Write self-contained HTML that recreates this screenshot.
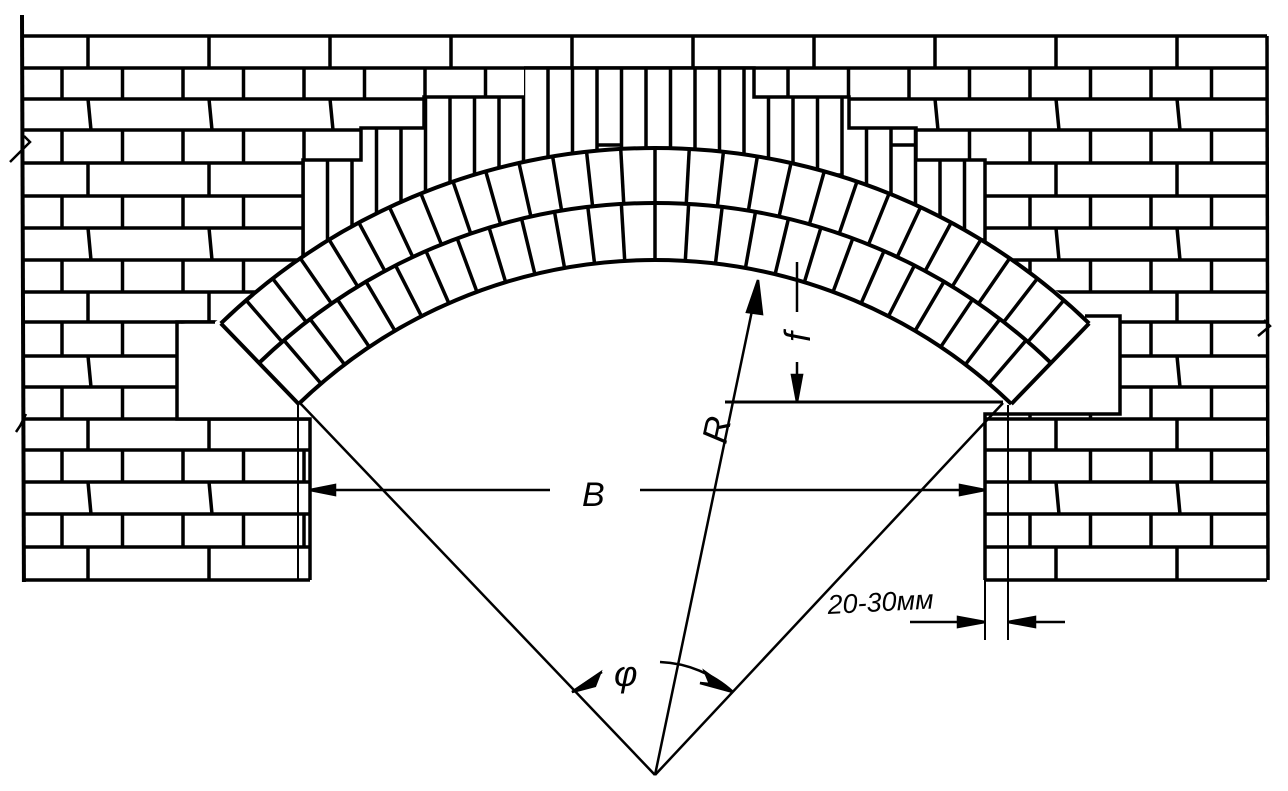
<!DOCTYPE html>
<html><head><meta charset="utf-8"><style>
html,body{margin:0;padding:0;background:#fff;}
svg{display:block;}
text{font-family:"Liberation Sans",sans-serif;font-style:italic;fill:#000;}
</style></head><body>
<svg id="s" width="1288" height="791" viewBox="0 0 1288 791" xmlns="http://www.w3.org/2000/svg">
<defs>
<clipPath id="soldier"><path d="M524,68 L754,68 L754,97 L849,97 L849,128 L916,128 L916,160 L985,160 L985,330 L300,330 L303,160 L361,160 L361,128 L424,128 L424,97 L524,97 Z"/></clipPath>
</defs>
<g id="bricks" stroke="#000" stroke-width="3.5" fill="none"></g>
<g id="white" fill="#fff" stroke="none">
<path d="M524,68 L754,68 L754,97 L849,97 L849,128 L916,128 L916,160 L985,160 L985,244 L1090,313 L1120,318 L1120,414 L985,414 L985,582 L310,582 L310,419 L177,419 L177,324 L215,322 L303,258 L303,160 L361,160 L361,128 L424,128 L424,97 L524,97 Z"/>
<rect x="0" y="582" width="1288" height="209"/>
</g>
<g id="sold" stroke="#000" stroke-width="3.5" fill="none" clip-path="url(#soldier)"></g>
<g id="soldEdge" stroke="#000" stroke-width="3.5" fill="none">
<path d="M524,68 L754,68 L754,97 L849,97 L849,128 L916,128 L916,160 L985,160 L985,244 M303,258 L303,160 L361,160 L361,128 L424,128 L424,97 L524,97"/>
<path d="M1085,316 L1120,316 L1120,414 L985,414 L985,580 M215,322 L177,322 L177,419 L310,419 L310,580"/>
</g>
<g id="arch" stroke="#000" stroke-width="4" fill="none"></g>
<g id="ann" stroke="#000" stroke-width="2.5" fill="none"></g>
</svg>
<script>
var NS="http://www.w3.org/2000/svg";
function ln(g,x1,y1,x2,y2,w){var l=document.createElementNS(NS,"line");l.setAttribute("x1",x1);l.setAttribute("y1",y1);l.setAttribute("x2",x2);l.setAttribute("y2",y2);if(w)l.setAttribute("stroke-width",w);document.getElementById(g).appendChild(l);}
function pth(g,d,extra){var p=document.createElementNS(NS,"path");p.setAttribute("d",d);if(extra)for(var k in extra)p.setAttribute(k,extra[k]);document.getElementById(g).appendChild(p);}
var X0=24,X1=1267;
var rows=[36,68,99,130,163,196,228,260,292,322,356,387,419,450,482,514,547,580];
for(var i=0;i<rows.length;i++){ln("bricks",X0,rows[i],X1,rows[i]);}
for(var i=0;i<rows.length-1;i++){
 var y1=rows[i],y2=rows[i+1];
 if(i%2==0){for(var x=88;x<X1;x+=121)ln("bricks",x,y1,x+(i%4==0?0:3),y2);}
 else {for(var x=62;x<X1;x+=60.5)ln("bricks",x,y1,x,y2);}
}
ln("bricks",22,15,24,605,4);ln("bricks",1267,36,1268,580,3.5);
pth("bricks","M24,136 L30,142 L10,162",{"stroke-width":"2.5"});
pth("bricks","M1264,320 L1270,326 L1258,336",{"stroke-width":"2.5"});
pth("bricks","M26,414 L20,426 L16,432",{"stroke-width":"2.5"});
for(var x=303,j=0;x<990;x+=24.5,j++){ln("sold",x,60,x,340);
 var yb=[145,175,210,240][j%4]; if(j%3==0)ln("sold",x,yb,x+24.5,yb);}
var cx=655,cy=773,ri=513,rm=570,ro=625,A=44*Math.PI/180;
function pt(r,a){return [cx+r*Math.sin(a),cy-r*Math.cos(a)];}
var p1=pt(ro,-A),p2=pt(ro,A),q1=pt(ri,-A),q2=pt(ri,A);
pth("arch","M"+p1+" A"+ro+","+ro+" 0 0 1 "+p2+" L"+q2+" L"+q2[0]+",412 L"+q1[0]+",412 L"+q1+" Z",{fill:"#fff",stroke:"none"});
[ri,rm,ro].forEach(function(r){var a=pt(r,-A),b=pt(r,A);pth("arch","M"+a+" A"+r+","+r+" 0 0 1 "+b);});
var n1=26;for(var k=1;k<n1;k++){var a=-A+2*A*k/n1;var s=pt(ri,a),e=pt(rm,a);ln("arch",s[0],s[1],e[0],e[1],3.5);}
var n2=28;for(var k=1;k<n2;k++){var a=-A+2*A*k/n2;var s=pt(rm,a),e=pt(ro,a);ln("arch",s[0],s[1],e[0],e[1],3.5);}
ln("arch",p1[0],p1[1],q1[0],q1[1]);ln("arch",p2[0],p2[1],q2[0],q2[1]);
ln("ann",655,775,300,403);ln("ann",655,775,1003,403);
ln("ann",655,775,758,282);
pth("ann","M758,280 L747,312 L762,314 Z",{fill:"#000"});
ln("ann",725,402,1003,402,3);
ln("ann",797,262,797,312);ln("ann",797,362,797,402);
pth("ann","M797,402 L792,375 L802,375 Z",{fill:"#000"});
ln("ann",310,490,550,490);ln("ann",640,490,985,490);
pth("ann","M310,490 L335,485 L335,495 Z",{fill:"#000"});
pth("ann","M985,490 L960,485 L960,495 Z",{fill:"#000"});
pth("ann","M660,662 A115,115 0 0 1 733,692");
pth("ann","M733,692 L705,672 L710,684 L700,683 Z",{fill:"#000"});
pth("ann","M572,692 L600,673 L595,686 Z",{fill:"#000"});
ln("ann",575,690,602,672);
ln("ann",298,403,298,580,2);
ln("ann",985,580,985,640,2);ln("ann",1008,405,1008,640,2);
ln("ann",910,622,985,622);pth("ann","M985,622 L958,617 L958,627 Z",{fill:"#000"});
ln("ann",1008,622,1065,622);pth("ann","M1008,622 L1035,617 L1035,627 Z",{fill:"#000"});
</script>
<svg style="position:absolute;left:0;top:0" width="1288" height="791">
<text x="582" y="506" font-size="34">B</text>
<text x="0" y="0" font-size="36" transform="translate(726,445) rotate(-78)">R</text>
<text x="0" y="0" font-size="36" text-anchor="middle" transform="translate(810,337) rotate(-90)">f</text>
<text x="614" y="686" font-size="36">φ</text>
<text x="828" y="614" font-size="27" transform="rotate(-3 828 614)">20-30мм</text>
</svg>
</body></html>
